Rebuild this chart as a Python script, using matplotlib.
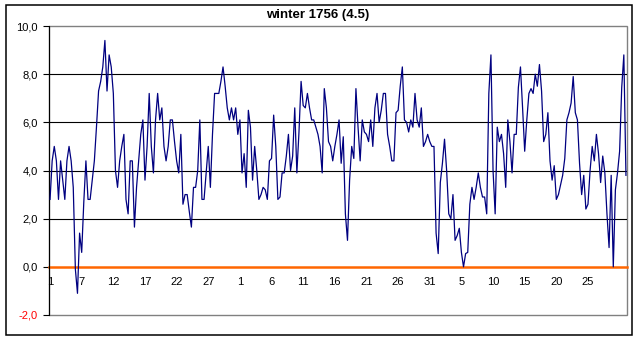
import matplotlib
matplotlib.use("Agg")
import matplotlib.pyplot as plt
from matplotlib.patches import Rectangle

# temperature readings, three per day, Dec 1755 - Feb 1756
temps = [
    2.8, 4.4, 5.0, 4.4, 2.8, 4.4, 3.6, 2.8, 4.4, 5.0,
    4.4, 3.3, -0.1, -1.1, 1.4, 0.6, 2.7, 4.4, 2.8, 2.8,
    3.6, 4.4, 5.8, 7.3, 7.7, 8.3, 9.4, 7.3, 8.8, 8.3,
    7.2, 4.0, 3.3, 4.4, 5.0, 5.5, 2.8, 2.2, 4.4, 4.4,
    1.65, 3.3, 4.4, 5.5, 6.1,
    3.6, 5.0, 7.2, 5.0, 3.9, 6.1, 7.2, 6.1, 6.6, 5.0,
    4.4, 5.0, 6.1, 6.1, 5.2, 4.4, 3.9, 5.5, 2.6, 3.0,
    3.0, 2.3, 1.65, 3.3, 3.3, 4.0, 6.1, 2.8, 2.8, 3.9,
    5.0, 3.3, 5.5, 7.2, 7.2, 7.2, 7.7, 8.3, 7.5, 6.6,
    6.1, 6.6, 6.1, 6.6, 5.5, 6.1, 3.9,
    4.7, 3.3, 6.5, 5.8, 3.6, 5.0, 4.0, 2.8, 3.0, 3.3,
    3.2, 2.8, 4.4, 4.5, 6.3, 5.0, 2.8, 2.9, 3.9, 3.9,
    4.6, 5.5, 4.0, 4.6, 6.6, 3.9, 5.6, 7.7, 6.7, 6.6,
    7.2, 6.6, 6.1, 6.1, 5.8, 5.5, 5.0, 3.9, 7.4, 6.6,
    5.2, 5.0, 4.4, 5.0, 5.5, 6.1,
    4.3, 5.4, 2.2, 1.1, 3.6, 5.0, 4.5, 7.4, 5.8, 4.4,
    6.1, 5.6, 5.5, 5.2, 6.1, 5.0, 6.6, 7.2, 6.0, 6.5,
    7.2, 7.2, 5.5, 5.0, 4.4, 4.4, 6.4, 6.5, 7.5, 8.3,
    6.1, 6.0, 5.6, 6.1, 5.8, 7.2, 6.1, 5.8, 6.6, 5.0,
    5.2, 5.5, 5.2, 5.0, 5.0, 1.4,
    0.55, 3.5, 4.3, 5.3, 4.0, 2.2, 2.0, 3.0, 1.1, 1.3,
    1.6, 0.6, 0.0, 0.55, 0.6, 2.6, 3.3, 2.8, 3.3, 3.9,
    3.3, 2.9, 2.9, 2.2, 7.2, 8.8, 4.0, 2.2, 5.8, 5.2,
    5.5, 4.7, 3.3, 6.1, 5.2, 3.9, 5.5, 5.5, 7.45, 8.3,
    6.6, 4.8, 6.1, 7.2, 7.4, 7.2,
    8.0, 7.5, 8.4, 7.3, 5.2, 5.5, 6.4, 4.4, 3.6, 4.2,
    2.8, 3.0, 3.4, 3.8, 4.5, 6.1, 6.4, 6.8, 7.9, 6.4,
    6.1, 4.3, 3.0, 3.8, 2.4, 2.6, 4.0, 5.0, 4.4, 5.5,
    4.7, 3.5, 4.6, 3.9, 2.2, 0.8, 3.8, 0.0, 3.2, 3.9,
    4.8, 7.45, 8.8, 3.8,
]

# day-of-month labels, one every 15 readings
day_labels = ["1", "7", "12", "17", "22", "27", "1", "6", "11", "16",
              "21", "26", "31", "5", "10", "15", "20", "25"]
label_step = 15

y_ticks = [-2, 0, 2, 4, 6, 8, 10]

plt.rcParams['font.family'] = ['Liberation Sans', 'DejaVu Sans']

W, H = 643, 341
fig = plt.figure(figsize=(W / 100, H / 100), dpi=100)
ax = fig.add_axes([49 / W, 1 - 315 / H, (627 - 49) / W, (315 - 26) / H])

x = list(range(len(temps)))
ax.plot(x, temps, color='#000080', linewidth=0.9, zorder=3)

ax.set_xlim(-0.5, len(temps) - 0.5)
ax.set_ylim(-2, 10)

# horizontal gridlines
for v in [2, 4, 6, 8]:
    ax.axhline(v, color='black', linewidth=0.8, zorder=1)

# category axis sits on zero, drawn in orange
ax.spines['bottom'].set_position(('data', 0))
ax.spines['bottom'].set_color('#FF6600')
ax.spines['bottom'].set_linewidth(1.8)
ax.spines['bottom'].set_zorder(2)
ax.spines['top'].set_visible(False)
ax.spines['right'].set_visible(False)
ax.spines['left'].set_color('black')
ax.spines['left'].set_linewidth(0.8)

# grey plot-area border
ax.add_patch(Rectangle((0, 0), 1, 1, transform=ax.transAxes, fill=False,
                       edgecolor='#808080', linewidth=1.0, zorder=0,
                       clip_on=False))

ax.set_xticks([i * label_step for i in range(len(day_labels))])
ax.set_xticklabels(day_labels)
ax.tick_params(axis='x', length=0, pad=7, labelsize=8)

ax.set_yticks(y_ticks)
ax.set_yticklabels([f"{v:.1f}".replace('.', ',') for v in y_ticks])
ax.tick_params(axis='y', direction='out', length=4, width=0.8, pad=4,
               labelsize=8)
for lbl, v in zip(ax.get_yticklabels(), y_ticks):
    if v < 0:
        lbl.set_color('red')

fig.text(318 / W, 1 - 15 / H, "winter 1756 (4.5)", ha='center', va='center',
         fontsize=9.5, fontweight='bold')

# chart frame
fig.patches.append(Rectangle((6 / W, 1 - 335 / H), (632 - 6) / W, (335 - 5) / H,
                             transform=fig.transFigure, fill=False,
                             edgecolor='black', linewidth=1.1))

fig.savefig('out.png', dpi=100)
plt.close(fig)
